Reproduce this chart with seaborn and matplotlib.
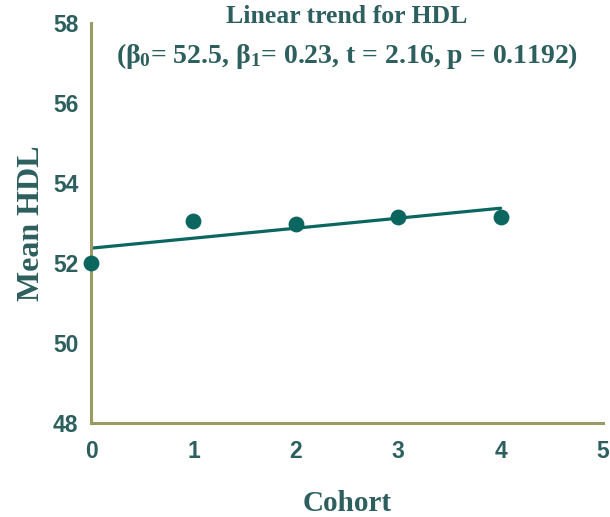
import matplotlib
matplotlib.use("Agg")
import matplotlib.pyplot as plt
import seaborn as sns
import pandas as pd

# Data
cohort = [0, 1, 2, 3, 4]
mean_hdl = [52.0, 53.05, 52.97, 53.15, 53.15]
trend_x = [0, 4]
trend_y = [52.37, 53.37]
x_ticks = [0, 1, 2, 3, 4, 5]
y_ticks = [48, 50, 52, 54, 56, 58]
title_line1 = "Linear trend for HDL"
title_line2 = r"($\beta_0$= 52.5, $\beta_1$= 0.23, t = 2.16, p = 0.1192)"

sns.set_style("white")
plt.rcParams['font.family'] = ['Liberation Sans', 'DejaVu Sans']
plt.rcParams['mathtext.fontset'] = 'custom'
plt.rcParams['mathtext.rm'] = 'Liberation Serif:bold'
plt.rcParams['mathtext.it'] = 'Liberation Serif:bold'
plt.rcParams['mathtext.bf'] = 'Liberation Serif:bold'

teal = "#0b6660"
text_c = "#2d5f5f"
axis_c = "#9b9b66"

df = pd.DataFrame({"Cohort": cohort, "Mean HDL": mean_hdl})
trend = pd.DataFrame({"x": trend_x, "y": trend_y})

fig = plt.figure(figsize=(6.10, 5.17), dpi=100)
ax = fig.add_axes([91/610, 1-423/517, (603-91)/610, (423-23)/517])

sns.lineplot(data=trend, x="x", y="y", ax=ax, color=teal, linewidth=2.3)
sns.scatterplot(data=df, x="Cohort", y="Mean HDL", ax=ax, color=teal,
                s=130, edgecolor=teal, linewidth=0, zorder=5, clip_on=False)

ax.set_xlim(0, 5)
ax.set_ylim(48, 58)
ax.set_xticks(x_ticks)
ax.set_yticks(y_ticks)
ax.set_xticklabels([str(t) for t in x_ticks])
ax.set_yticklabels([str(t) for t in y_ticks])

for side in ["top", "right"]:
    ax.spines[side].set_visible(False)
for side in ["left", "bottom"]:
    ax.spines[side].set_color(axis_c)
    ax.spines[side].set_linewidth(2.2)

ax.tick_params(axis="both", direction="out", length=6, width=2.2, color=axis_c,
               labelsize=16.5, labelcolor=text_c, pad=3)
ax.tick_params(axis="x", pad=6)
for lab in ax.get_xticklabels() + ax.get_yticklabels():
    lab.set_fontweight("bold")

ax.set_xlabel("Cohort", family="Liberation Serif", fontweight="bold",
              fontsize=21, color=text_c, labelpad=20)
ax.set_ylabel("Mean HDL", family="Liberation Serif", fontweight="bold",
              fontsize=23, color=text_c, labelpad=5)

ax.text(0.5, 1.045, title_line1, transform=ax.transAxes, ha="center", va="top",
        family="Liberation Serif", fontweight="bold", fontsize=18.5, color=text_c)
ax.text(0.5, 0.955, title_line2, transform=ax.transAxes, ha="center", va="top",
        family="Liberation Serif", fontweight="bold", fontsize=20, color=text_c)

fig.savefig("out.png", dpi=100)
